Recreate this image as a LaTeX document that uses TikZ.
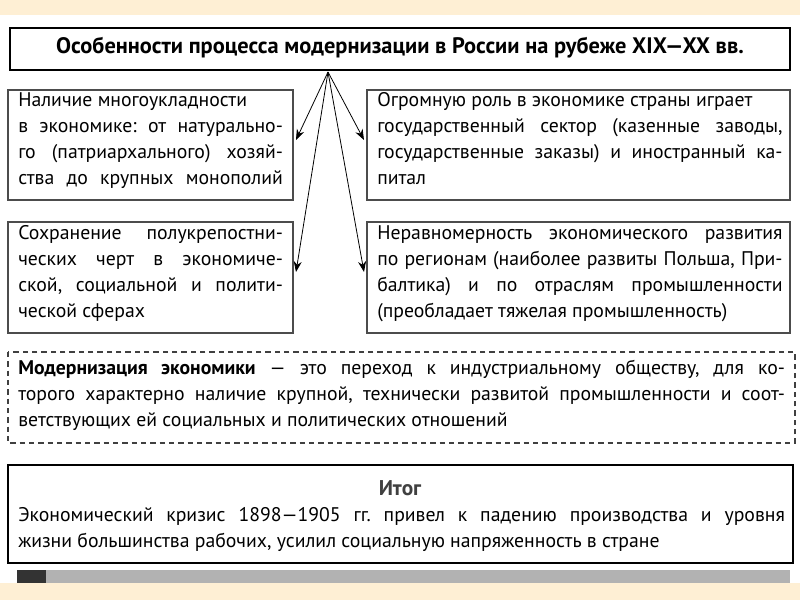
\documentclass[tikz,border=0pt]{standalone}
\usepackage{fontspec}
\setmainfont{PT Sans}
\usetikzlibrary{arrows.meta}
\frenchspacing

\newcommand{\lline}[1]{\makebox[198.5pt][s]{#1}}
\newcommand{\rline}[1]{\makebox[304pt][s]{#1}}
\newcommand{\wline}[1]{\makebox[575pt][s]{#1}}

\tikzset{
    txtbox/.style={draw=black!70, line width=0.8pt, inner sep=0pt},
    boxtext/.style={anchor=north west, align=left, font=\fontsize{14.8}{19.5}\selectfont, inner sep=0pt},
    branch/.style={-{Stealth[length=8pt,width=6pt]}, line width=0.6pt}
}

\begin{document}
\begin{tikzpicture}[x=0.75pt, y=-0.75pt]
    \useasboundingbox (0,0) rectangle (800,600);
    % slide frame
    \fill[yellow!25!orange!15] (0,0) rectangle (800,15);
    \fill[yellow!25!orange!15] (0,583) rectangle (800,600);
    \fill[white] (0,15) rectangle (800,583);
    \fill[black!30] (20,570) rectangle (790,583);
    \fill[black!80] (17,570) rectangle (46,583);
    % title
    \draw[line width=1.6pt] (10,28) rectangle (790,70);
    \node[font=\fontsize{16.8}{18}\selectfont\bfseries] (title) at (400,48)
        {Особенности процесса модернизации в России на рубеже XIX—XX вв.};
    \coordinate (hub) at (328,72);
    % features
    \draw[txtbox] (8,90) rectangle (293,200);
    \node[boxtext] (mixed) at (18,92) {Наличие многоукладности\\\lline{в экономике: от натурально-}\\\lline{го (патриархального) хозяй-}\\\lline{ства до крупных монополий}};
    \draw[txtbox] (367,90) rectangle (790,200);
    \node[boxtext] (state) at (377,92) {Огромную роль в экономике страны играет\\\rline{государственный сектор (казенные заводы,}\\\rline{государственные заказы) и иностранный ка-}\\питал};
    \draw[txtbox] (8,222) rectangle (293,333);
    \node[boxtext] (serf) at (18,225) {\lline{Сохранение полукрепостни-}\\\lline{ческих черт в экономиче-}\\\lline{ской, социальной и полити-}\\ческой сферах};
    \draw[txtbox] (367,222) rectangle (790,333);
    \node[boxtext] (uneven) at (377,225) {\rline{Неравномерность экономического развития}\\\rline{по регионам (наиболее развиты Польша, При-}\\\rline{балтика) и по отраслям промышленности}\\(преобладает тяжелая промышленность)};
    \coordinate (mixedend) at (296,140);
    \coordinate (stateend) at (364,140);
    \coordinate (serfend) at (296,272);
    \coordinate (unevenend) at (364,272);
    \foreach \target in {mixedend, stateend, serfend, unevenend}
        \draw[branch] (hub) -- (\target);
    % definition
    \draw[dashed, dash pattern=on 4pt off 3pt, line width=1.2pt, black!75] (8,352) rectangle (795,443);
    \node[boxtext] (defn) at (18,360) {\wline{\textbf{Модернизация экономики} — это переход к индустриальному обществу, для ко-}\\\wline{торого характерно наличие крупной, технически развитой промышленности и соот-}\\ветствующих ей социальных и политических отношений};
    % result
    \draw[line width=1.6pt] (8,465) rectangle (793,563);
    \node[font=\fontsize{16}{18}\selectfont\bfseries, text=black!75] (result) at (400,488) {Итог};
    \node[boxtext] (crisis) at (18,507) {\wline{Экономический кризис 1898—1905 гг. привел к падению производства и уровня}\\жизни большинства рабочих, усилил социальную напряженность в стране};
\end{tikzpicture}
\end{document}
